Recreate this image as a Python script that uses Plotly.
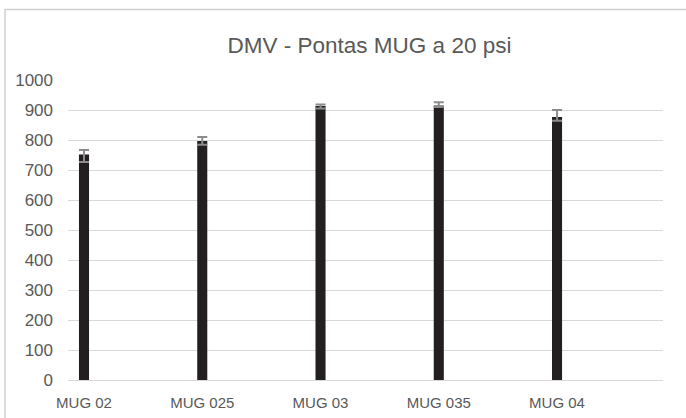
import plotly.graph_objects as go

# Nozzle types and their volume median diameter (DMV, µm) at 20 psi
categories = ["MUG 02", "MUG 025", "MUG 03", "MUG 035", "MUG 04"]
dmv = [752, 797, 913, 915, 877]
err_plus = [15, 13, 5, 11, 23]
err_minus = [25, 13, 8, 5, 13]

positions = list(range(len(categories)))

fig = go.Figure()
fig.add_trace(go.Bar(
    x=positions,
    y=dmv,
    width=0.085,
    marker=dict(color="#231f20", line=dict(width=0)),
    error_y=dict(
        type="data",
        symmetric=False,
        array=err_plus,
        arrayminus=err_minus,
        color="#8c8c8c",
        thickness=2,
        width=5,
    ),
    showlegend=False,
))

font_family = "Liberation Sans, Arial, sans-serif"

fig.update_layout(
    width=686,
    height=418,
    margin=dict(l=68, r=23, t=80, b=38),
    paper_bgcolor="white",
    plot_bgcolor="white",
    font=dict(family=font_family, color="#595959", size=15),
    title=dict(
        text="DMV - Pontas MUG a 20 psi",
        x=(226 + 513) / 2 / 686,
        xanchor="center",
        y=1 - 45 / 418,
        yanchor="middle",
        font=dict(size=22.5, color="#595959", family=font_family),
    ),
    xaxis=dict(
        range=[-0.1353, 4.896],
        tickvals=positions,
        ticktext=categories,
        showgrid=False,
        zeroline=False,
        showline=False,
        ticks="",
        automargin=False,
        ticklabelstandoff=12,
        tickfont=dict(size=15, color="#595959"),
    ),
    yaxis=dict(
        range=[0, 1000],
        dtick=100,
        showgrid=True,
        gridcolor="#d9d9d9",
        gridwidth=1,
        zeroline=True,
        zerolinecolor="#d9d9d9",
        zerolinewidth=1,
        showline=False,
        ticks="",
        automargin=False,
        ticklabelstandoff=14,
        tickfont=dict(size=17, color="#595959"),
    ),
    shapes=[
        dict(
            type="rect",
            xref="paper", yref="paper",
            x0=-63 / 595, x1=(690 - 68) / 595,
            y0=-(418 + 5 - 380) / 300, y1=(380 - 9.5) / 300,
            line=dict(color="#d0d0d0", width=1.5),
            fillcolor="rgba(0,0,0,0)",
            layer="below",
        )
    ],
)

fig.write_html("out.html")
